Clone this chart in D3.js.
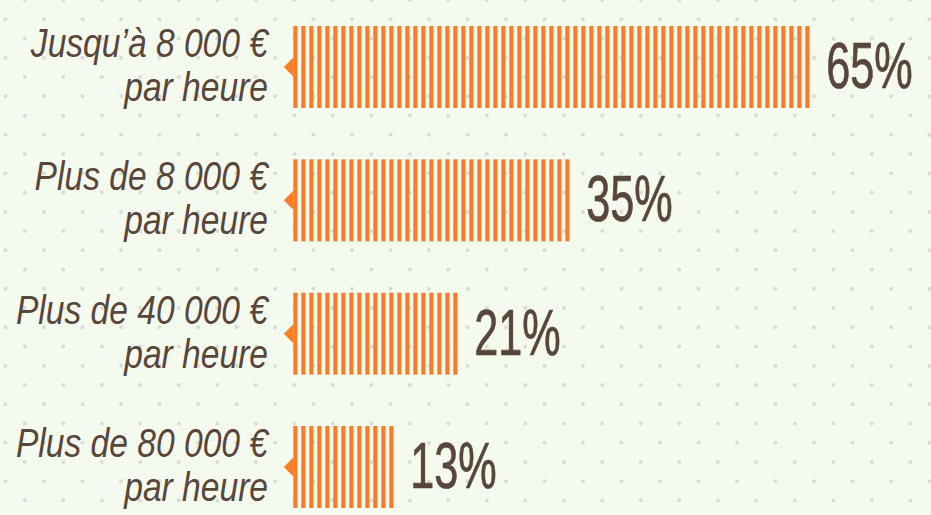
<!DOCTYPE html>
<html>
<head>
<meta charset="utf-8">
<script src="https://cdn.jsdelivr.net/npm/d3@7"></script>
<style>
  html, body { margin: 0; padding: 0; background: #f5faef; }
  svg { display: block; }
</style>
</head>
<body>
<svg id="chart" width="931" height="515"></svg>
<script>
const labelLine1 = ["Jusqu’à 8 000 €", "Plus de 8 000 €", "Plus de 40 000 €", "Plus de 80 000 €"];
const labelLine2 = ["par heure", "par heure", "par heure", "par heure"];
const values = [65, 35, 21, 13];

const svg = d3.select("#chart");
const width = +svg.attr("width");
const height = +svg.attr("height");

svg.append("rect").attr("width", width).attr("height", height).attr("fill", "#f5faef");

// dotted background grid, staggered rows
const dots = svg.append("g");
d3.range(0, 28).forEach(r => {
  const off = r % 2 === 0 ? 24.8 : 5.5;
  d3.range(-1, 26).forEach(c => {
    dots.append("circle")
      .attr("cx", off + c * 38.5)
      .attr("cy", r * 19.25)
      .attr("r", 2)
      .attr("fill", "#d9dbd5");
  });
});

// one stripe per percentage point
const x = d3.scaleLinear().domain([0, 100]).range([293.3, 1093.3]);
const y = d3.scaleBand().domain(d3.range(values.length)).range([26, 508]).paddingInner(0.385);

const rows = svg.selectAll(".row").data(values).enter()
  .append("g").attr("class", "row")
  .attr("transform", (d, i) => `translate(0,${y(i)})`);

const bh = y.bandwidth();

rows.each(function(d) {
  d3.select(this).selectAll("rect").data(d3.range(d)).enter()
    .append("rect")
    .attr("x", k => x(k))
    .attr("y", 0)
    .attr("width", (x(1) - x(0)) * 0.52)
    .attr("height", bh)
    .attr("fill", "#f77d27");
});

// small pointer triangle
rows.append("path")
  .attr("d", `M${x(0) - 9.5},${bh / 2} L${x(0)},${bh / 2 - 9.5} L${x(0)},${bh / 2 + 9.5} Z`)
  .attr("fill", "#f77d27");

// category labels
const lab = rows.append("text")
  .attr("text-anchor", "end")
  .attr("fill", "#59463a")
  .style("font-family", "'Liberation Sans', Arial, sans-serif")
  .style("font-style", "italic")
  .style("font-size", "40px")
  .attr("transform", `translate(268,0) scale(0.84,1)`);

lab.append("tspan").attr("x", 0).attr("y", bh / 2 - 10).text((d, i) => labelLine1[i]);
lab.append("tspan").attr("x", 0).attr("y", bh / 2 + 34).text((d, i) => labelLine2[i]);

// value labels
rows.append("text")
  .attr("transform", d => `translate(${x(d) - 4 + 17},${bh / 2 + 21}) scale(0.675,1)`)
  .attr("fill", "#59463a")
  .attr("stroke", "#59463a")
  .attr("stroke-width", 0.7)
  .style("font-family", "'Liberation Sans', Arial, sans-serif")
  .style("font-size", "64px")
  .text(d => d + "%");
</script>
</body>
</html>
